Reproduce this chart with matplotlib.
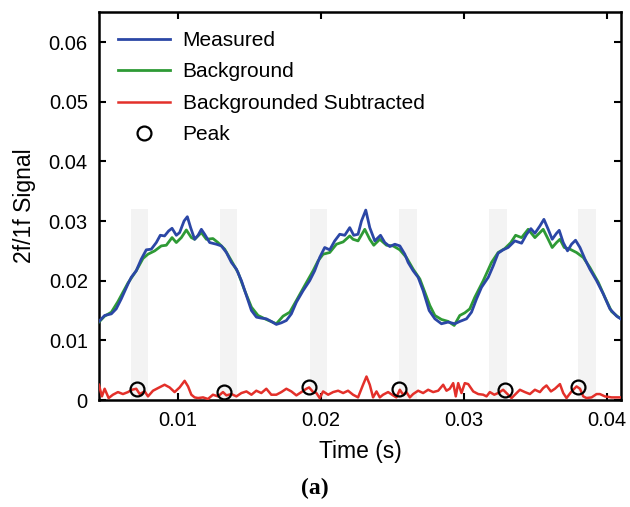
import matplotlib
matplotlib.use("Agg")
import matplotlib.pyplot as plt
from matplotlib.ticker import FuncFormatter

plt.rcParams['font.family'] = ['Liberation Sans', 'DejaVu Sans']

# measured 2f/1f signal
t_meas = [0.00450, 0.00490, 0.00537, 0.00571, 0.00606, 0.00653, 0.00676, 0.00711, 0.00746, 0.00781,
          0.00816, 0.00851, 0.00879, 0.00909, 0.00937, 0.00961, 0.00991, 0.01014, 0.01045, 0.01068,
          0.01091, 0.01119, 0.01143, 0.01166, 0.01189, 0.01224, 0.01271, 0.01306, 0.01341, 0.01376,
          0.01411, 0.01446, 0.01481, 0.01516, 0.01551, 0.01586, 0.01620, 0.01655, 0.01690, 0.01725,
          0.01760, 0.01795, 0.01830, 0.01877, 0.01923, 0.01958, 0.01993, 0.02028, 0.02063, 0.02098,
          0.02133, 0.02168, 0.02203, 0.02231, 0.02261, 0.02285, 0.02315, 0.02343, 0.02378, 0.02418,
          0.02448, 0.02483, 0.02518, 0.02553, 0.02588, 0.02611, 0.02646, 0.02681, 0.02716, 0.02758,
          0.02798, 0.02844, 0.02891, 0.02937, 0.02972, 0.03019, 0.03054, 0.03089, 0.03124, 0.03171,
          0.03206, 0.03240, 0.03275, 0.03310, 0.03357, 0.03404, 0.03439, 0.03469, 0.03497, 0.03532,
          0.03560, 0.03590, 0.03618, 0.03648, 0.03667, 0.03695, 0.03725, 0.03753, 0.03781, 0.03812,
          0.03847, 0.03881, 0.03928, 0.03975, 0.04021, 0.04068, 0.04103]
measured = [0.01317, 0.01417, 0.01444, 0.01528, 0.01694, 0.01944, 0.02056, 0.02167, 0.02361, 0.02517,
            0.02528, 0.02639, 0.02761, 0.02750, 0.02833, 0.02878, 0.02761, 0.02806, 0.03000, 0.03072,
            0.02889, 0.02694, 0.02761, 0.02861, 0.02778, 0.02639, 0.02611, 0.02583, 0.02472, 0.02306,
            0.02194, 0.02000, 0.01750, 0.01500, 0.01389, 0.01372, 0.01361, 0.01317, 0.01267, 0.01294,
            0.01333, 0.01444, 0.01639, 0.01833, 0.02000, 0.02167, 0.02389, 0.02556, 0.02517, 0.02667,
            0.02778, 0.02761, 0.02889, 0.02761, 0.02778, 0.03000, 0.03183, 0.02889, 0.02667, 0.02761,
            0.02639, 0.02572, 0.02611, 0.02583, 0.02444, 0.02306, 0.02167, 0.02056, 0.01833, 0.01500,
            0.01361, 0.01278, 0.01306, 0.01278, 0.01317, 0.01361, 0.01472, 0.01694, 0.01889, 0.02056,
            0.02250, 0.02461, 0.02517, 0.02556, 0.02667, 0.02628, 0.02778, 0.02872, 0.02794, 0.02917,
            0.03028, 0.02861, 0.02694, 0.02794, 0.02844, 0.02639, 0.02500, 0.02611, 0.02678, 0.02556,
            0.02361, 0.02194, 0.02000, 0.01778, 0.01528, 0.01406, 0.01350]

# fitted background
t_bg = [0.00450, 0.00490, 0.00537, 0.00583, 0.00653, 0.00711, 0.00758, 0.00793, 0.00840, 0.00886,
        0.00921, 0.00961, 0.00991, 0.01026, 0.01061, 0.01096, 0.01119, 0.01166, 0.01201, 0.01247,
        0.01282, 0.01329, 0.01376, 0.01422, 0.01469, 0.01516, 0.01562, 0.01620, 0.01690, 0.01737,
        0.01784, 0.01830, 0.01888, 0.01947, 0.01982, 0.02017, 0.02063, 0.02110, 0.02157, 0.02203,
        0.02226, 0.02261, 0.02308, 0.02343, 0.02371, 0.02413, 0.02460, 0.02506, 0.02553, 0.02599,
        0.02646, 0.02693, 0.02728, 0.02763, 0.02798, 0.02844, 0.02891, 0.02933, 0.02972, 0.03007,
        0.03042, 0.03077, 0.03136, 0.03194, 0.03240, 0.03287, 0.03329, 0.03362, 0.03404, 0.03450,
        0.03497, 0.03555, 0.03590, 0.03618, 0.03648, 0.03672, 0.03702, 0.03742, 0.03788, 0.03835,
        0.03881, 0.03940, 0.03986, 0.04033, 0.04080, 0.04108]
background = [0.01306, 0.01406, 0.01472, 0.01650, 0.01961, 0.02167, 0.02372, 0.02444, 0.02500, 0.02583,
              0.02594, 0.02722, 0.02639, 0.02722, 0.02850, 0.02722, 0.02694, 0.02806, 0.02694, 0.02706,
              0.02639, 0.02528, 0.02333, 0.02139, 0.01833, 0.01556, 0.01417, 0.01350, 0.01278, 0.01406,
              0.01472, 0.01667, 0.01917, 0.02167, 0.02333, 0.02444, 0.02472, 0.02611, 0.02650, 0.02750,
              0.02694, 0.02667, 0.02861, 0.02694, 0.02594, 0.02694, 0.02594, 0.02583, 0.02517, 0.02389,
              0.02194, 0.02028, 0.01806, 0.01583, 0.01417, 0.01350, 0.01317, 0.01250, 0.01417, 0.01461,
              0.01528, 0.01722, 0.02000, 0.02306, 0.02472, 0.02539, 0.02639, 0.02761, 0.02722, 0.02861,
              0.02722, 0.02861, 0.02694, 0.02556, 0.02639, 0.02694, 0.02556, 0.02528, 0.02472, 0.02389,
              0.02222, 0.01972, 0.01722, 0.01483, 0.01389, 0.01361]

# measured minus background
t_sub = [0.00450, 0.00471, 0.00490, 0.00518, 0.00548, 0.00583, 0.00618, 0.00653, 0.00681, 0.00711,
         0.00735, 0.00770, 0.00793, 0.00828, 0.00863, 0.00909, 0.00944, 0.00979, 0.01014, 0.01049,
         0.01073, 0.01096, 0.01119, 0.01143, 0.01178, 0.01212, 0.01247, 0.01282, 0.01317, 0.01341,
         0.01376, 0.01411, 0.01446, 0.01481, 0.01516, 0.01550, 0.01585, 0.01620, 0.01655, 0.01690,
         0.01725, 0.01760, 0.01795, 0.01830, 0.01865, 0.01900, 0.01919, 0.01947, 0.01970, 0.01993,
         0.02017, 0.02052, 0.02087, 0.02122, 0.02157, 0.02191, 0.02226, 0.02261, 0.02296, 0.02320,
         0.02343, 0.02366, 0.02390, 0.02413, 0.02436, 0.02471, 0.02506, 0.02529, 0.02553, 0.02576,
         0.02599, 0.02623, 0.02646, 0.02681, 0.02716, 0.02751, 0.02786, 0.02821, 0.02856, 0.02879,
         0.02902, 0.02926, 0.02944, 0.02961, 0.02984, 0.03007, 0.03031, 0.03066, 0.03101, 0.03136,
         0.03159, 0.03182, 0.03213, 0.03240, 0.03275, 0.03310, 0.03334, 0.03369, 0.03392, 0.03427,
         0.03462, 0.03497, 0.03532, 0.03555, 0.03578, 0.03609, 0.03637, 0.03672, 0.03695, 0.03718,
         0.03753, 0.03788, 0.03812, 0.03835, 0.03858, 0.03893, 0.03928, 0.03951, 0.03986, 0.04033,
         0.04103]
subtracted = [0.00256, 0.00061, 0.00189, 0.00033, 0.00089, 0.00133, 0.00100, 0.00133, 0.00172, 0.00189,
              0.00100, 0.00144, 0.00061, 0.00156, 0.00200, 0.00256, 0.00211, 0.00133, 0.00211, 0.00322,
              0.00228, 0.00089, 0.00044, 0.00033, 0.00044, 0.00017, 0.00089, 0.00061, 0.00133, 0.00078,
              0.00100, 0.00061, 0.00117, 0.00144, 0.00089, 0.00156, 0.00117, 0.00189, 0.00089, 0.00089,
              0.00133, 0.00189, 0.00144, 0.00078, 0.00133, 0.00189, 0.00211, 0.00133, 0.00117, 0.00033,
              0.00144, 0.00089, 0.00133, 0.00156, 0.00117, 0.00156, 0.00089, 0.00044, 0.00256, 0.00394,
              0.00256, 0.00044, 0.00144, 0.00044, 0.00089, 0.00133, 0.00078, 0.00044, 0.00172, 0.00089,
              0.00133, 0.00044, 0.00100, 0.00156, 0.00117, 0.00172, 0.00133, 0.00156, 0.00256, 0.00156,
              0.00189, 0.00283, 0.00061, 0.00283, 0.00117, 0.00283, 0.00267, 0.00144, 0.00100, 0.00089,
              0.00061, 0.00133, 0.00089, 0.00117, 0.00172, 0.00089, 0.00033, 0.00117, 0.00172, 0.00133,
              0.00100, 0.00172, 0.00133, 0.00200, 0.00244, 0.00144, 0.00189, 0.00267, 0.00117, 0.00033,
              0.00144, 0.00228, 0.00189, 0.00061, 0.00033, 0.00044, 0.00100, 0.00100, 0.00061, 0.00044,
              0.00044]

# detected peaks
t_peak = [0.00714, 0.01324, 0.01919, 0.02548, 0.03287, 0.03796]
peak = [0.00183, 0.00133, 0.00212, 0.00183, 0.00162, 0.00212]

# shaded windows (start, end)
win_start = [0.00672, 0.01294, 0.01923, 0.02546, 0.03175, 0.03798]
win_end = [0.00796, 0.01418, 0.02047, 0.02670, 0.03299, 0.03922]
win_top = 0.032

fig = plt.figure(figsize=(6.3, 5.07), dpi=100)
ax = fig.add_axes([0.157, 0.211, 0.829, 0.765])

ylo, yhi = 0, 0.065
for a, b in zip(win_start, win_end):
    ax.axvspan(a, b, ymin=0, ymax=win_top / yhi, color='#f3f3f3', lw=0, zorder=0)

ax.plot(t_meas, measured, color='#2b47a6', lw=2, label='Measured', zorder=4)
ax.plot(t_bg, background, color='#2e9a35', lw=2, label='Background', zorder=3)
ax.plot(t_sub, subtracted, color='#e3302a', lw=1.8, label='Backgrounded Subtracted', zorder=3)
ax.plot(t_peak, peak, 'o', mfc='none', mec='black', mew=1.6, ms=10, label='Peak', zorder=5)

ax.set_xlim(0.0045, 0.041)
ax.set_ylim(ylo, yhi)
ax.set_xticks([0.01, 0.02, 0.03, 0.04])
ax.set_yticks([0, 0.01, 0.02, 0.03, 0.04, 0.05, 0.06])
fmt = FuncFormatter(lambda v, p: '%g' % round(v, 4))
ax.xaxis.set_major_formatter(fmt)
ax.yaxis.set_major_formatter(fmt)
ax.tick_params(direction='in', top=True, right=True, length=5, width=1.5, labelsize=14.5, pad=8)
for s in ax.spines.values():
    s.set_linewidth(1.8)

ax.set_xlabel('Time (s)', fontsize=16.5, labelpad=7)
ax.set_ylabel('2f/1f Signal', fontsize=16.5, labelpad=9)

ax.legend(loc='upper left', frameon=False, fontsize=15, handlelength=2.5,
          labelspacing=0.6, borderaxespad=0.5, handletextpad=0.62)

fig.text(0.5, 0.025, '(a)', ha='center', fontsize=17, fontweight='bold',
         family=['Liberation Serif', 'DejaVu Serif'])

plt.savefig('out.png', dpi=100)
